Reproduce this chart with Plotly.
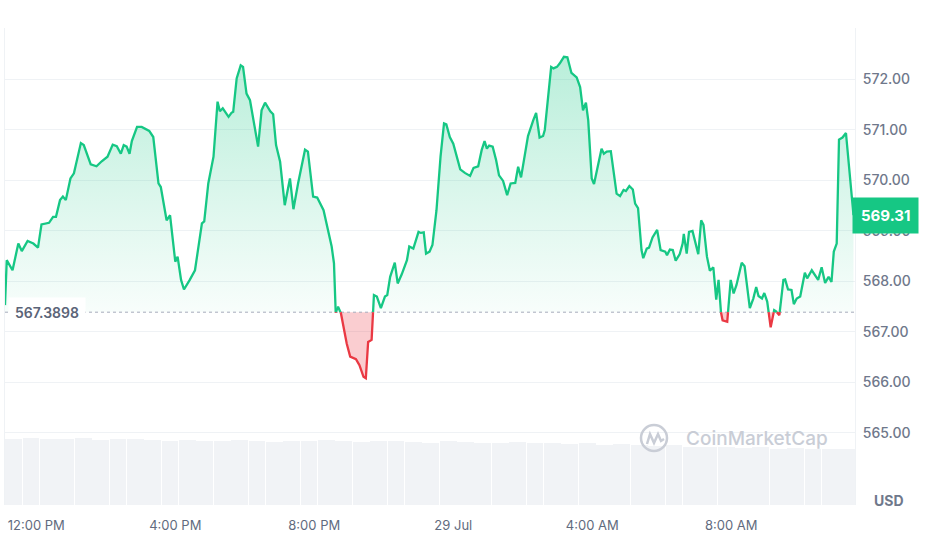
import pandas as pd
import plotly.graph_objects as go

# ---------------- data ----------------
start_time = "2024-07-28 11:06"
baseline_price = 567.3898
last_price = 569.31

# minutes after start_time
time_minutes = [
    0, 3, 13, 23, 29, 39, 49, 57, 63, 76, 83, 88, 95, 100, 105, 113, 119, 131, 136, 148,
    158, 167, 177, 186, 193, 200, 205, 210, 215, 219, 228, 236, 249, 256, 265, 269, 279, 285, 294, 298,
    304, 309, 319, 328, 340, 344, 351, 360, 367, 371, 376, 380, 386, 391, 394, 400, 407, 411, 417, 423,
    432, 437, 443, 449, 458, 463, 468, 475, 483, 492, 498, 506, 518, 523, 532, 539, 550, 560, 564, 568,
    571, 575, 580, 590, 596, 606, 612, 619, 623, 627, 633, 637, 642, 649, 656, 660, 665, 673, 678, 685,
    694, 698, 705, 714, 718, 723, 727, 733, 738, 745, 752, 758, 762, 768, 774, 786, 794, 803, 809, 817,
    823, 828, 832, 836, 842, 848, 853, 860, 867, 873, 881, 886, 891, 896, 903, 912, 917, 923, 929, 932,
    938, 943, 947, 953, 958, 965, 971, 978, 987, 993, 998, 1003, 1007, 1013, 1017, 1024, 1030, 1034, 1039, 1046,
    1049, 1056, 1062, 1068, 1072, 1078, 1084, 1088, 1093, 1099, 1102, 1108, 1112, 1118, 1126, 1132, 1140, 1143, 1148, 1153,
    1158, 1165, 1170, 1172, 1177, 1181, 1187, 1193, 1197, 1202, 1206, 1212, 1217, 1223, 1228, 1232, 1236, 1239, 1247, 1253,
    1258, 1263, 1272, 1277, 1286, 1292, 1297, 1301, 1307, 1311, 1316, 1322, 1328, 1332, 1337, 1344, 1347, 1352, 1358, 1362,
    1367, 1373, 1381, 1385, 1393, 1404, 1410, 1416, 1422, 1427, 1431, 1436, 1440, 1446, 1452, 1459, 1465,
]
prices = [
    567.53, 568.42, 568.22, 568.75, 568.60, 568.80, 568.75, 568.67, 569.13, 569.16, 569.28, 569.28, 569.61, 569.68, 569.61, 570.04, 570.14, 570.74, 570.70, 570.32,
    570.28, 570.38, 570.47, 570.71, 570.68, 570.53, 570.70, 570.67, 570.53, 570.78, 571.06, 571.06, 570.98, 570.86, 569.94, 569.87, 569.21, 569.31, 568.39, 568.49,
    568.03, 567.84, 568.03, 568.22, 569.15, 569.19, 569.94, 570.47, 571.56, 571.37, 571.43, 571.36, 571.26, 571.34, 571.36, 572.02, 572.28, 572.25, 571.72, 571.59,
    571.00, 570.67, 571.39, 571.54, 571.37, 571.31, 570.70, 570.37, 569.51, 570.04, 569.43, 569.94, 570.61, 570.57, 569.68, 569.66, 569.41, 568.85, 568.69, 568.36,
    567.38, 567.50, 567.37, 566.77, 566.51, 566.46, 566.34, 566.11, 566.08, 566.80, 566.84, 567.73, 567.70, 567.47, 567.70, 567.73, 568.09, 568.37, 567.96, 568.14,
    568.42, 568.69, 568.65, 568.98, 568.96, 568.97, 568.55, 568.59, 568.72, 569.41, 570.47, 571.13, 571.11, 570.86, 570.73, 570.22, 570.15, 570.09, 570.25, 570.28,
    570.60, 570.78, 570.63, 570.69, 570.67, 570.40, 570.10, 569.99, 569.71, 569.94, 569.95, 570.27, 570.06, 570.40, 570.88, 571.19, 571.34, 570.85, 570.88, 571.00,
    571.66, 572.25, 572.22, 572.25, 572.32, 572.45, 572.44, 572.13, 572.04, 571.85, 571.39, 571.54, 571.19, 570.04, 569.93, 570.34, 570.63, 570.53, 570.57, 570.58,
    570.34, 569.74, 569.69, 569.81, 569.79, 569.89, 569.82, 569.54, 569.45, 568.62, 568.46, 568.65, 568.67, 568.87, 569.02, 568.62, 568.59, 568.52, 568.63, 568.62,
    568.41, 568.54, 568.75, 568.94, 568.55, 568.98, 569.00, 568.75, 568.54, 569.21, 569.12, 568.49, 568.21, 568.28, 567.64, 568.03, 567.40, 567.23, 567.20, 568.03,
    567.76, 567.93, 568.37, 568.30, 567.47, 567.66, 567.89, 567.71, 567.66, 567.77, 567.60, 567.09, 567.43, 567.40, 567.33, 568.03, 568.04, 567.84, 567.83, 567.55,
    567.66, 567.70, 568.17, 568.06, 568.22, 568.03, 568.28, 567.97, 568.09, 567.99, 568.59, 568.75, 570.81, 570.85, 570.94, 570.01, 569.31,
]

# relative volume per 30-minute bucket
volume = [
    0.99, 1.00, 0.98, 0.99, 1.00, 0.97, 0.98, 0.99, 0.97, 0.96, 0.97, 0.95, 0.96, 0.97, 0.95, 0.94,
    0.96, 0.95, 0.97, 0.95, 0.94, 0.95, 0.96, 0.94, 0.93, 0.95, 0.94, 0.92, 0.93, 0.94, 0.92, 0.93,
    0.91, 0.92, 0.90, 0.91, 0.89, 0.88, 0.89, 0.87, 0.86, 0.87, 0.85, 0.86, 0.84, 0.85, 0.84, 0.83, 0.84,
]
volume_bucket_minutes = 30

tick_times = ["2024-07-28 12:00", "2024-07-28 16:00", "2024-07-28 20:00",
              "2024-07-29 00:00", "2024-07-29 04:00", "2024-07-29 08:00"]
tick_labels = ["12:00 PM", "4:00 PM", "8:00 PM", "29 Jul", "4:00 AM", "8:00 AM"]
price_ticks = [565, 566, 567, 568, 569, 570, 571, 572]

# ---------------- styling ----------------
GREEN = "#16c784"
RED = "#ea3943"
GRID = "#eff2f5"
TICK = "#6b7487"
FONT = "Inter"

# insert baseline crossings so the colour switches exactly on the baseline
t_aug, p_aug = [], []
for i in range(len(prices)):
    if i > 0:
        p0, p1 = prices[i - 1], prices[i]
        if (p0 - baseline_price) * (p1 - baseline_price) < 0:
            t0, t1 = time_minutes[i - 1], time_minutes[i]
            tc = t0 + (baseline_price - p0) / (p1 - p0) * (t1 - t0)
            t_aug.append(tc)
            p_aug.append(baseline_price)
    t_aug.append(time_minutes[i])
    p_aug.append(prices[i])

t0_dt = pd.Timestamp(start_time)
times = [t0_dt + pd.Timedelta(minutes=m) for m in t_aug]
base_line = [baseline_price] * len(times)
upper = [max(p, baseline_price) for p in p_aug]
lower = [min(p, baseline_price) for p in p_aug]
green_line = [p if p >= baseline_price else None for p in p_aug]
red_line = [p if p <= baseline_price else None for p in p_aug]

vol_times = [t0_dt + pd.Timedelta(minutes=volume_bucket_minutes * (k + 0.5)) for k in range(len(volume))]

fig = go.Figure()

# volume bars (secondary axis)
fig.add_trace(go.Bar(
    x=vol_times, y=volume, yaxis="y2",
    width=volume_bucket_minutes * 60 * 1000 * 0.97,
    marker=dict(color="#f1f3f6", line=dict(width=0)),
    hoverinfo="skip", showlegend=False,
))

# green fill
fig.add_trace(go.Scatter(x=times, y=base_line, mode="lines", line=dict(width=0),
                         hoverinfo="skip", showlegend=False))
fig.add_trace(go.Scatter(
    x=times, y=upper, mode="lines", line=dict(width=0), fill="tonexty",
    fillgradient=dict(type="vertical",
                      colorscale=[[0, "rgba(22,199,132,0.03)"], [1, "rgba(22,199,132,0.30)"]]),
    hoverinfo="skip", showlegend=False))

# red fill
fig.add_trace(go.Scatter(x=times, y=base_line, mode="lines", line=dict(width=0),
                         hoverinfo="skip", showlegend=False))
fig.add_trace(go.Scatter(
    x=times, y=lower, mode="lines", line=dict(width=0), fill="tonexty",
    fillcolor="rgba(234,57,67,0.25)", hoverinfo="skip", showlegend=False))

# baseline dotted
fig.add_trace(go.Scatter(x=[t0_dt, t0_dt + pd.Timedelta(minutes=1468)],
                         y=[baseline_price, baseline_price], mode="lines",
                         line=dict(color="#a6acbb", width=1, dash="dot"),
                         hoverinfo="skip", showlegend=False))

# price lines
fig.add_trace(go.Scatter(x=times, y=green_line, mode="lines", connectgaps=False,
                         line=dict(color=GREEN, width=2.3), showlegend=False))
fig.add_trace(go.Scatter(x=times, y=red_line, mode="lines", connectgaps=False,
                         line=dict(color=RED, width=2.3), showlegend=False))

x_end = t0_dt + pd.Timedelta(minutes=1467.6)

fig.update_layout(
    width=930, height=550,
    margin=dict(l=5, r=75, t=28, b=45),
    paper_bgcolor="white", plot_bgcolor="white",
    font=dict(family=FONT, color=TICK, size=13),
    showlegend=False,
    bargap=0,
    xaxis=dict(
        type="date", range=[t0_dt, x_end],
        tickvals=tick_times, ticktext=tick_labels,
        showgrid=False, zeroline=False, showline=False,
        ticks="outside", ticklen=8, tickcolor="rgba(0,0,0,0)",
        tickfont=dict(size=13, color="#616b7e", family=FONT),
    ),
    yaxis=dict(
        side="right", range=[563.57, 573.02],
        tickvals=price_ticks, ticktext=[f"{v:.2f}" for v in price_ticks],
        showgrid=True, gridcolor=GRID, gridwidth=1, zeroline=False,
        showline=True, mirror=True, linecolor=GRID, linewidth=1,
        ticks="outside", ticklen=4, tickcolor="rgba(0,0,0,0)",
        tickfont=dict(size=14, color="#6f788b", family=FONT, weight=500),
    ),
    yaxis2=dict(overlaying="y", range=[0, 7.12], visible=False),
)

def px2paper(px, py):
    return (px - 5) / 850, (505 - py) / 477

# baseline label
fig.add_annotation(
    xref="paper", yref="y", x=0, y=baseline_price, xanchor="left", yanchor="middle",
    xshift=3, text="567.3898", showarrow=False,
    font=dict(size=14, color="#5b6478", family=FONT, weight=600),
    bgcolor="white", borderpad=6,
)

# current price tag
fig.add_annotation(
    xref="paper", yref="y", x=1, y=last_price, xanchor="left", yanchor="middle",
    xshift=-3, text=f"{last_price:.2f}", showarrow=False,
    font=dict(size=15, color="white", family=FONT, weight=700),
    bgcolor=GREEN, borderpad=8,
)

# USD label
ux, uy = px2paper(889, 500)
fig.add_annotation(xref="paper", yref="paper", x=ux, y=uy, text="USD", showarrow=False,
                   font=dict(size=14, color="#6f788b", family=FONT, weight=700),
                   xanchor="center", yanchor="middle")

# watermark
wx, wy = px2paper(757, 438)
fig.add_annotation(xref="paper", yref="paper", x=wx, y=wy, text="CoinMarketCap", showarrow=False,
                   font=dict(size=19, color="#c9cdd6", family=FONT, weight=500),
                   xanchor="center", yanchor="middle")
cx0, cy0 = px2paper(641, 451)
cx1, cy1 = px2paper(667, 425)
fig.add_shape(type="circle", xref="paper", yref="paper", x0=cx0, y0=cy0, x1=cx1, y1=cy1,
              line=dict(color="#c9cdd6", width=2.5))
wave = [(647, 444), (650, 434), (654, 443), (658, 434), (661, 441), (664, 439)]
path = ""
for k, (a, b) in enumerate(wave):
    xa_, ya_ = px2paper(a, b)
    path += ("M" if k == 0 else "L") + f" {xa_},{ya_} "
fig.add_shape(type="path", xref="paper", yref="paper", path=path,
              line=dict(color="#c9cdd6", width=2.5))

fig.write_html("out.html")
